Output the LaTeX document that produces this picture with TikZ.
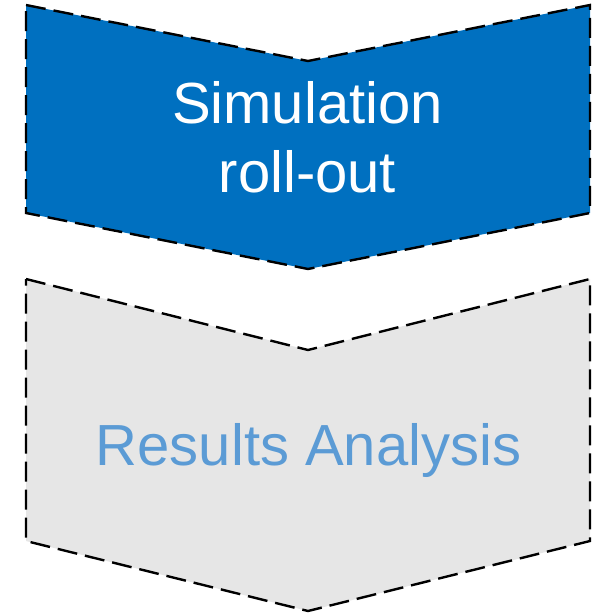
\documentclass[tikz,border=0pt]{standalone}
\usepackage{fontspec}
\setmainfont{Liberation Sans}
\definecolor{stageblue}{HTML}{0070C0}
\definecolor{stagegray}{HTML}{E6E6E6}
\definecolor{labelblue}{HTML}{5B9BD5}
\tikzset{
  chevron/.style={draw=black, line width=2.4pt, dash pattern=on 20pt off 8pt, line join=miter},
  biglabel/.style={anchor=base, inner sep=0pt, font=\fontsize{58}{69}\selectfont},
}
\begin{document}
\begin{tikzpicture}[x=1pt, y=-1pt]
  \useasboundingbox (0,0) rectangle (603,613);
  % first stage: blue chevron
  \path[chevron, fill=stageblue]
    (26,5) -- (308,61) -- (590,5) -- (590,213) -- (308,269) -- (26,213) -- cycle;
  % second stage: grey chevron
  \path[chevron, fill=stagegray]
    (26,279) -- (308,350) -- (590,279) -- (590,541) -- (308,611) -- (26,541) -- cycle;
  % labels
  \node[biglabel, text=white] (simA) at (307.5,123) {Simulation};
  \node[biglabel, text=white] (simB) at (307.5,192) {roll-out};
  \node[biglabel, text=labelblue] (res) at (308.5,465) {Results Analysis};
\end{tikzpicture}
\end{document}
